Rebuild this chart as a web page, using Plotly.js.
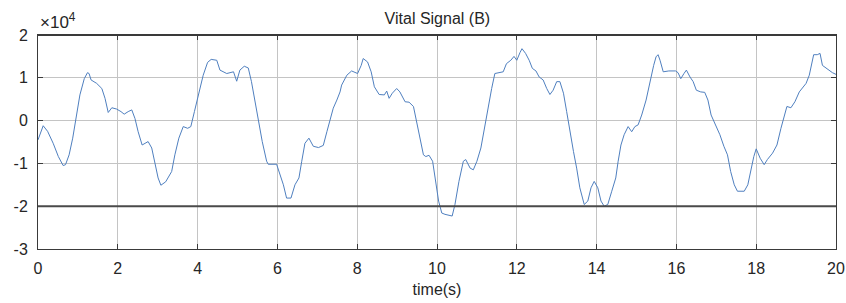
<!DOCTYPE html>
<html>
<head>
<meta charset="utf-8">
<script src="https://cdn.plot.ly/plotly-3.0.1.min.js"></script>
<style>html,body{margin:0;padding:0;background:#fff;}#chart{width:846px;height:303px;}</style>
</head>
<body>
<div id="chart"></div>
<script>
// time in seconds
const timeS = [0,0.13,0.24,0.38,0.51,0.63,0.69,0.78,0.87,0.94,1.05,1.16,1.24,1.28,1.33,1.47,1.6,1.68,1.76,1.85,1.97,2.08,2.16,2.26,2.35,2.43,2.51,2.61,2.76,2.85,2.93,3.01,3.08,3.2,3.35,3.43,3.53,3.64,3.75,3.83,3.92,4.03,4.14,4.25,4.34,4.48,4.56,4.73,4.9,4.98,5.06,5.17,5.27,5.35,5.44,5.52,5.62,5.73,5.77,5.98,6.07,6.15,6.23,6.34,6.44,6.54,6.61,6.69,6.79,6.9,7.03,7.15,7.24,7.32,7.4,7.49,7.57,7.61,7.74,7.86,8.01,8.1,8.15,8.26,8.35,8.43,8.55,8.68,8.74,8.8,8.88,8.99,9.07,9.2,9.3,9.41,9.49,9.57,9.66,9.72,9.8,9.89,9.95,10.04,10.12,10.2,10.38,10.45,10.55,10.66,10.72,10.83,10.91,11.0,11.1,11.19,11.27,11.37,11.45,11.55,11.66,11.74,11.85,11.93,12.0,12.08,12.13,12.22,12.31,12.39,12.48,12.56,12.66,12.75,12.83,12.91,13.0,13.08,13.17,13.25,13.33,13.42,13.5,13.58,13.69,13.78,13.86,13.94,14.03,14.11,14.19,14.28,14.38,14.48,14.54,14.61,14.69,14.79,14.88,14.96,15.04,15.13,15.24,15.34,15.43,15.49,15.54,15.59,15.67,15.81,15.98,16.04,16.11,16.19,16.25,16.34,16.42,16.5,16.61,16.71,16.79,16.87,16.98,17.09,17.19,17.28,17.36,17.45,17.53,17.7,17.79,17.87,17.94,18.0,18.1,18.2,18.28,18.41,18.52,18.62,18.72,18.77,18.87,18.97,19.08,19.17,19.25,19.33,19.39,19.44,19.53,19.6,19.66,19.74,19.83,19.91,20.0];
// signal values in units of 10^4
const signalB = [-0.45,-0.12,-0.25,-0.53,-0.84,-1.05,-1.03,-0.8,-0.41,-0.02,0.6,0.98,1.12,1.1,0.95,0.87,0.75,0.52,0.19,0.3,0.27,0.21,0.15,0.21,0.25,0.05,-0.26,-0.57,-0.49,-0.64,-1.03,-1.34,-1.51,-1.43,-1.19,-0.8,-0.41,-0.14,-0.18,-0.14,0.21,0.67,1.06,1.36,1.43,1.41,1.18,1.1,1.14,0.92,1.18,1.27,1.23,0.91,0.44,-0.02,-0.49,-0.95,-1.02,-1.02,-1.26,-1.5,-1.81,-1.81,-1.5,-1.34,-0.95,-0.53,-0.41,-0.6,-0.63,-0.58,-0.26,0.02,0.29,0.48,0.67,0.83,1.06,1.16,1.1,1.29,1.45,1.37,1.14,0.79,0.61,0.6,0.69,0.52,0.64,0.75,0.67,0.44,0.43,0.33,-0.02,-0.41,-0.8,-0.84,-0.81,-0.95,-1.34,-1.88,-2.16,-2.19,-2.23,-1.96,-1.42,-0.95,-0.91,-1.11,-1.15,-0.95,-0.64,-0.18,0.29,0.75,1.1,1.12,1.14,1.33,1.41,1.5,1.41,1.59,1.68,1.57,1.41,1.22,1.16,1.02,0.95,0.75,0.61,0.71,0.91,0.91,0.64,0.21,-0.26,-0.72,-1.11,-1.57,-1.96,-1.88,-1.57,-1.42,-1.57,-1.88,-2.0,-1.96,-1.65,-1.34,-0.95,-0.57,-0.33,-0.14,-0.26,-0.14,-0.1,0.13,0.48,0.95,1.29,1.49,1.54,1.41,1.14,1.16,1.16,1.12,0.98,1.1,1.18,1.02,0.91,0.71,0.67,0.66,0.48,0.13,-0.1,-0.33,-0.6,-0.8,-1.19,-1.5,-1.65,-1.65,-1.5,-1.11,-0.84,-0.66,-0.88,-1.03,-0.91,-0.76,-0.57,-0.18,0.21,0.33,0.3,0.44,0.67,0.79,0.87,1.06,1.29,1.54,1.54,1.57,1.29,1.23,1.18,1.12,1.08];
const xTicks = [0,2,4,6,8,10,12,14,16,18,20];
const yTicks = [-3,-2,-1,0,1,2];

const font = {family: 'Liberation Sans, Arial, sans-serif', color: '#262626'};

Plotly.newPlot('chart', [{
  x: timeS, y: signalB, type: 'scatter', mode: 'lines',
  line: {color: '#4f7fbf', width: 1}, hoverinfo: 'none'
}], {
  width: 846, height: 303,
  margin: {l: 38, r: 10, t: 35, b: 54},
  paper_bgcolor: '#fff', plot_bgcolor: '#fff',
  showlegend: false,
  title: {text: 'Vital Signal (B)', x: 0.517, xanchor: 'center', y: 0.94, yanchor: 'middle',
          font: Object.assign({size: 16}, font)},
  xaxis: {range: [0, 20], tickvals: xTicks, ticktext: xTicks.map(String),
          showgrid: true, gridcolor: '#c4c4c4', gridwidth: 1, zeroline: false,
          showline: true, linecolor: '#3a3a3a', linewidth: 1, mirror: 'ticks',
          ticks: 'inside', ticklen: 5, tickcolor: '#3a3a3a',
          tickfont: Object.assign({size: 16}, font), ticklabelstandoff: 5,
          title: {text: 'time(s)', standoff: 7, font: Object.assign({size: 16}, font)}},
  yaxis: {range: [-3, 2], tickvals: yTicks, ticktext: yTicks.map(String),
          showgrid: true, gridcolor: '#c4c4c4', gridwidth: 1, zeroline: false,
          showline: true, linecolor: '#3a3a3a', linewidth: 1, mirror: 'ticks',
          ticks: 'inside', ticklen: 5, tickcolor: '#3a3a3a',
          tickfont: Object.assign({size: 16}, font), ticklabelstandoff: 6},
  shapes: [{type: 'line', xref: 'paper', x0: 0, x1: 1, yref: 'y', y0: -2, y1: -2,
            line: {color: '#4a4a4a', width: 2}, layer: 'above'},
           {type: 'line', xref: 'paper', x0: 0, x1: 1, yref: 'paper', y0: 1, y1: 1,
            line: {color: '#3a3a3a', width: 2}}],
  annotations: [{text: '×10<sup>4</sup>', xref: 'paper', yref: 'paper', x: 0.0, y: 1.0,
                 xanchor: 'left', yanchor: 'bottom', yshift: 1, showarrow: false,
                 font: Object.assign({size: 17}, font)}]
}, {displayModeBar: false, staticPlot: true});
</script>
</body>
</html>
